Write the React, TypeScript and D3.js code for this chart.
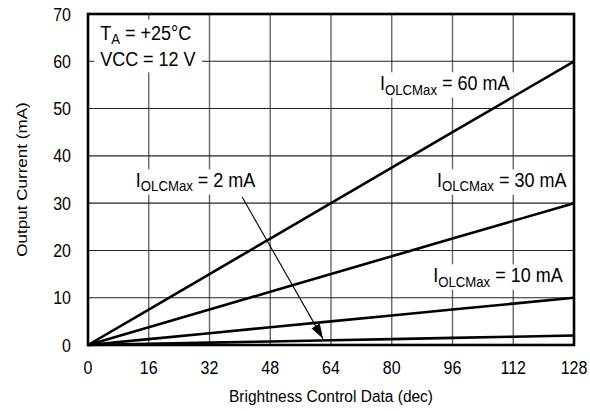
import React, { useEffect, useRef } from "react";
import * as d3 from "d3";

const xTicks = [0, 16, 32, 48, 64, 80, 96, 112, 128];
const yTicks = [0, 10, 20, 30, 40, 50, 60, 70];
const codes = [0, 16, 32, 48, 64, 80, 96, 112, 128];
const i60 = [0, 7.5, 15, 22.5, 30, 37.5, 45, 52.5, 60];
const i30 = [0, 3.75, 7.5, 11.25, 15, 18.75, 22.5, 26.25, 30];
const i10 = [0, 1.25, 2.5, 3.75, 5, 6.25, 7.5, 8.75, 10];
const i2 = [0, 0.25, 0.5, 0.75, 1, 1.25, 1.5, 1.75, 2];
const seriesList = [i60, i30, i10, i2];
const labelNames = ["60 mA", "30 mA", "10 mA", "2 mA"];
const labelX = [76.9, 91.9, 90.9, 12.6];
const labelY = [53.9, 33.4, 13.3, 33.4];
const arrowFrom = [40.6, 31.3];
const arrowTo = [61.9, 1.3];

const W = 590;
const H = 411;
const FONT = "'Liberation Sans', Arial, Helvetica, sans-serif";
const STRETCH = 1.1;

export default function App() {
  const ref = useRef<SVGSVGElement | null>(null);

  useEffect(() => {
    const svg = d3.select(ref.current);
    svg.selectAll("*").remove();

    const x = d3.scaleLinear().domain([0, 128]).range([88, 574]);
    const y = d3.scaleLinear().domain([0, 70]).range([345, 14]);

    svg.append("rect").attr("width", W).attr("height", H).attr("fill", "white");

    const defs = svg.append("defs");
    defs
      .append("marker")
      .attr("id", "ah")
      .attr("viewBox", "0 0 10 10")
      .attr("refX", 10)
      .attr("refY", 5)
      .attr("markerWidth", 15)
      .attr("markerHeight", 15)
      .attr("markerUnits", "userSpaceOnUse")
      .attr("orient", "auto")
      .append("path")
      .attr("d", "M0,1.8 L10,5 L0,8.2 Z")
      .attr("fill", "black");

    // grid
    const grid = svg.append("g");
    grid
      .selectAll("line.v")
      .data(xTicks.slice(1, -1))
      .join("line")
      .attr("x1", (d) => x(d))
      .attr("x2", (d) => x(d))
      .attr("y1", y(70))
      .attr("y2", y(0))
      .attr("stroke", "#666")
      .attr("stroke-width", 1.4);
    grid
      .selectAll("line.h")
      .data(yTicks.slice(1, -1))
      .join("line")
      .attr("x1", x(0))
      .attr("x2", x(128))
      .attr("y1", (d) => y(d))
      .attr("y2", (d) => y(d))
      .attr("stroke", "#222")
      .attr("stroke-width", 1.1);

    const boxLayer = svg.append("g");
    const lineLayer = svg.append("g");
    const textLayer = svg.append("g");

    // series
    const line = d3
      .line<number>()
      .x((_, i) => x(codes[i]))
      .y((d) => y(d));
    seriesList.forEach((s) => {
      lineLayer
        .append("path")
        .attr("d", line(s) as string)
        .attr("fill", "none")
        .attr("stroke", "black")
        .attr("stroke-width", 2.6);
    });

    // arrow
    lineLayer
      .append("line")
      .attr("x1", x(arrowFrom[0]))
      .attr("y1", y(arrowFrom[1]))
      .attr("x2", x(arrowTo[0]))
      .attr("y2", y(arrowTo[1]))
      .attr("stroke", "black")
      .attr("stroke-width", 1.1)
      .attr("marker-end", "url(#ah)");

    const addBox = (g: d3.Selection<SVGGElement, unknown, null, undefined>, px: number, py: number) => {
      const node = g.node() as SVGGElement;
      const bb = node.getBBox();
      const ctm = g.attr("transform");
      boxLayer
        .append("rect")
        .attr("transform", ctm)
        .attr("x", bb.x - px)
        .attr("y", bb.y - py)
        .attr("width", bb.width + 2 * px)
        .attr("height", bb.height + 2 * py)
        .attr("fill", "white");
    };

    // series labels
    labelNames.forEach((name, i) => {
      const g = textLayer
        .append("g")
        .attr("transform", `translate(${x(labelX[i])},${y(labelY[i])}) scale(1,${STRETCH})`);
      const t = g
        .append("text")
        .attr("font-family", FONT)
        .attr("font-size", 18)
        .attr("fill", "black");
      t.append("tspan").text("I");
      t.append("tspan").attr("font-size", 13.2).attr("dy", 4).text("OLCMax");
      t.append("tspan").attr("dy", -4).text(" = " + name);
      addBox(g, 4, 0);
    });

    // conditions
    const cg = textLayer
      .append("g")
      .attr("transform", `translate(${x(3.2)},${y(64.6)}) scale(1,${STRETCH})`);
    const t1 = cg.append("text").attr("font-family", FONT).attr("font-size", 18);
    t1.append("tspan").text("T");
    t1.append("tspan").attr("font-size", 13.2).attr("dy", 4).text("A");
    t1.append("tspan").attr("dy", -4).text(" = +25°C");
    cg.append("text")
      .attr("font-family", FONT)
      .attr("font-size", 18)
      .attr("y", (y(59.0) - y(64.6)) / STRETCH)
      .text("VCC = 12 V");
    addBox(cg, 6, 2);

    // border
    svg
      .append("rect")
      .attr("x", x(0))
      .attr("y", y(70))
      .attr("width", x(128) - x(0))
      .attr("height", y(0) - y(70))
      .attr("fill", "none")
      .attr("stroke", "black")
      .attr("stroke-width", 2.6);

    // tick labels
    const ax = svg.append("g").attr("font-family", FONT).attr("font-size", 16);
    xTicks.forEach((v) => {
      ax.append("text")
        .attr("transform", `translate(${x(v)},374) scale(1,${STRETCH})`)
        .attr("text-anchor", "middle")
        .text(String(v));
    });
    yTicks.forEach((v) => {
      ax.append("text")
        .attr("transform", `translate(71,${y(v) + 6.5}) scale(1,${STRETCH})`)
        .attr("text-anchor", "end")
        .text(String(v));
    });

    // axis titles
    svg
      .append("text")
      .attr("transform", `translate(${(x(0) + x(128)) / 2},402) scale(1,${STRETCH})`)
      .attr("text-anchor", "middle")
      .attr("font-family", FONT)
      .attr("font-size", 15.5)
      .text("Brightness Control Data (dec)");
    svg
      .append("text")
      .attr("transform", `translate(27,${(y(0) + y(70)) / 2}) rotate(-90) scale(${STRETCH},1)`)
      .attr("text-anchor", "middle")
      .attr("font-family", FONT)
      .attr("font-size", 15.5)
      .text("Output Current (mA)");
  }, []);

  return (
    <svg
      ref={ref}
      width={W}
      height={H}
      style={{ position: "absolute", left: 0, top: 0, display: "block" }}
    />
  );
}
